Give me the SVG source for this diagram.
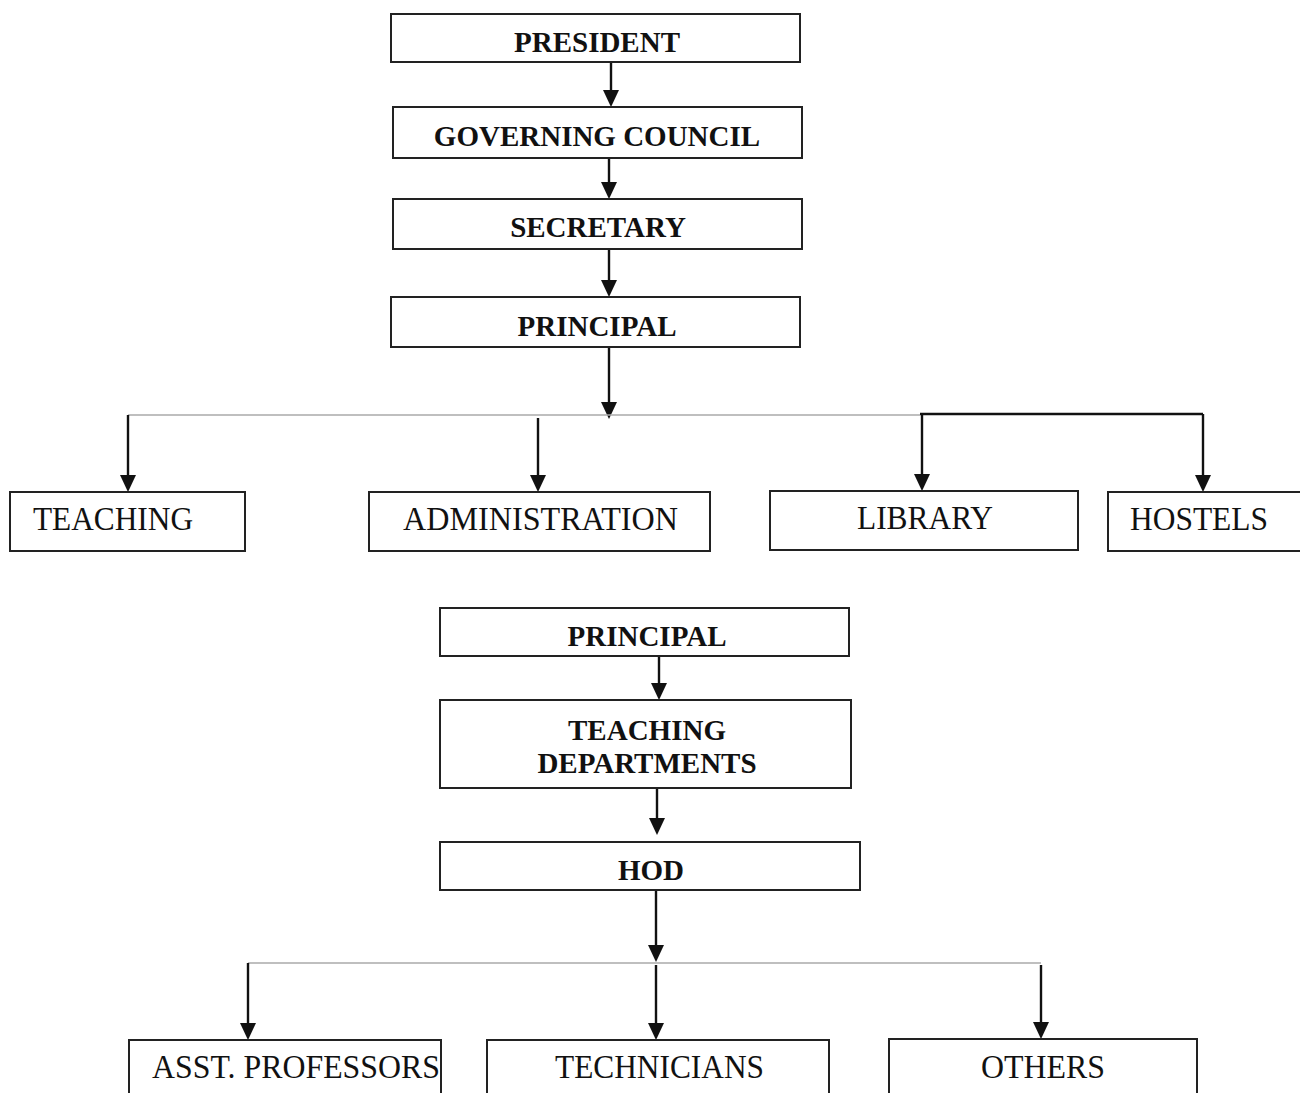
<svg xmlns="http://www.w3.org/2000/svg" width="1300" height="1093" viewBox="0 0 1300 1093">
<style>
.box{fill:#fff;stroke:#222;stroke-width:2}
.b{font-family:"Liberation Serif","Times New Roman",serif;font-weight:bold;font-size:29px;fill:#111;text-anchor:middle}
.r{font-family:"Liberation Serif","Times New Roman",serif;font-size:33px;fill:#111}
.c{fill:none;stroke:#111;stroke-width:2.4}
.g{fill:none;stroke:#aaa;stroke-width:1.6}
.h{fill:#111}
</style>
<defs>
<path id="ah" d="M-8,-17 L8,-17 L0,0 z"/>
</defs>
<rect width="1300" height="1093" fill="#fff"/>
<g id="connectors">
<line class="c" x1="611" y1="62" x2="611" y2="92"/><use href="#ah" class="h" x="611" y="107"/>
<line class="c" x1="609" y1="158" x2="609" y2="184"/><use href="#ah" class="h" x="609" y="199"/>
<line class="c" x1="609" y1="249" x2="609" y2="282"/><use href="#ah" class="h" x="609" y="297"/>
<line class="c" x1="609" y1="347" x2="609" y2="404"/><use href="#ah" class="h" x="609" y="419"/>
<line class="g" x1="128" y1="415" x2="920" y2="415"/>
<polyline class="c" points="920,414 1203,414"/>
<line class="c" x1="128" y1="415" x2="128" y2="477"/><use href="#ah" class="h" x="128" y="492"/>
<line class="c" x1="538" y1="418" x2="538" y2="477"/><use href="#ah" class="h" x="538" y="492"/>
<line class="c" x1="922" y1="415" x2="922" y2="476"/><use href="#ah" class="h" x="922" y="491"/>
<line class="c" x1="1203" y1="414" x2="1203" y2="477"/><use href="#ah" class="h" x="1203" y="492"/>
<line class="c" x1="659" y1="656" x2="659" y2="685"/><use href="#ah" class="h" x="659" y="700"/>
<line class="c" x1="657" y1="788" x2="657" y2="820"/><use href="#ah" class="h" x="657" y="835"/>
<line class="c" x1="656" y1="890" x2="656" y2="947"/><use href="#ah" class="h" x="656" y="962"/>
<line class="g" x1="248" y1="963" x2="1041" y2="963"/>
<line class="c" x1="248" y1="963" x2="248" y2="1025"/><use href="#ah" class="h" x="248" y="1040"/>
<line class="c" x1="656" y1="965" x2="656" y2="1025"/><use href="#ah" class="h" x="656" y="1040"/>
<line class="c" x1="1041" y1="965" x2="1041" y2="1024"/><use href="#ah" class="h" x="1041" y="1039"/>
</g>
<g id="president"><rect class="box" x="391" y="14" width="409" height="48"/><text class="b" x="597" y="52">PRESIDENT</text></g>
<g id="governing-council"><rect class="box" x="393" y="107" width="409" height="51"/><text class="b" x="597" y="146">GOVERNING COUNCIL</text></g>
<g id="secretary"><rect class="box" x="393" y="199" width="409" height="50"/><text class="b" x="598" y="237">SECRETARY</text></g>
<g id="principal"><rect class="box" x="391" y="297" width="409" height="50"/><text class="b" x="597" y="336">PRINCIPAL</text></g>
<g id="teaching"><rect class="box" x="10" y="492" width="235" height="59"/><text class="r" x="33" y="530" textLength="160" lengthAdjust="spacingAndGlyphs">TEACHING</text></g>
<g id="administration"><rect class="box" x="369" y="492" width="341" height="59"/><text class="r" x="403" y="530" textLength="275" lengthAdjust="spacingAndGlyphs">ADMINISTRATION</text></g>
<g id="library"><rect class="box" x="770" y="491" width="308" height="59"/><text class="r" x="857" y="529" textLength="136" lengthAdjust="spacingAndGlyphs">LIBRARY</text></g>
<g id="hostels"><rect class="box" x="1108" y="492" width="200" height="59"/><text class="r" x="1130" y="530" textLength="138" lengthAdjust="spacingAndGlyphs">HOSTELS</text></g>
<g id="principal-2"><rect class="box" x="440" y="608" width="409" height="48"/><text class="b" x="647" y="646">PRINCIPAL</text></g>
<g id="teaching-departments"><rect class="box" x="440" y="700" width="411" height="88"/><text class="b" x="647" y="740">TEACHING</text><text class="b" x="647" y="773">DEPARTMENTS</text></g>
<g id="hod"><rect class="box" x="440" y="842" width="420" height="48"/><text class="b" x="651" y="880">HOD</text></g>
<g id="asst-professors"><rect class="box" x="129" y="1040" width="312" height="60"/><text class="r" x="152" y="1078" textLength="288" lengthAdjust="spacingAndGlyphs">ASST. PROFESSORS</text></g>
<g id="technicians"><rect class="box" x="487" y="1040" width="342" height="60"/><text class="r" x="555" y="1078" textLength="209" lengthAdjust="spacingAndGlyphs">TECHNICIANS</text></g>
<g id="others"><rect class="box" x="889" y="1039" width="308" height="60"/><text class="r" x="981" y="1078" textLength="124" lengthAdjust="spacingAndGlyphs">OTHERS</text></g>
</svg>
